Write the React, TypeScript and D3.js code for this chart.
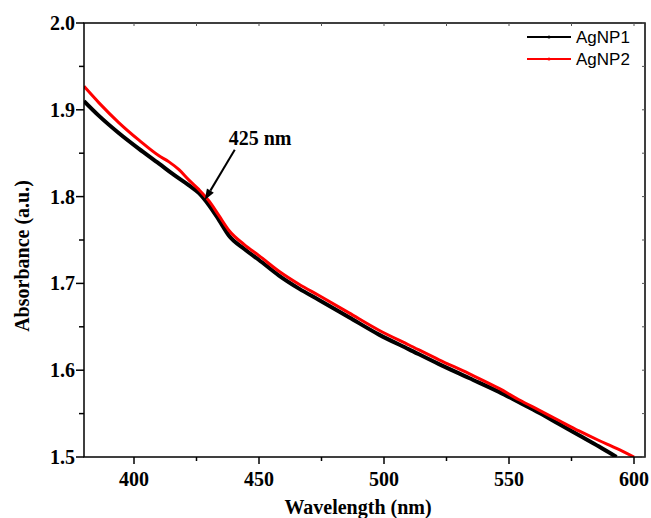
import { useEffect, useRef } from 'react';
import * as d3 from 'd3';

// wavelength (nm) / absorbance
const agnp1Wavelength = [380, 386, 394, 402, 410, 416, 422, 426, 430, 434, 438, 444, 450, 458, 466, 474, 486, 498, 510, 522, 534, 546, 554, 562, 570, 578, 586, 593];
const agnp1Absorbance = [1.910, 1.893, 1.873, 1.855, 1.838, 1.825, 1.813, 1.804, 1.790, 1.773, 1.755, 1.740, 1.727, 1.709, 1.694, 1.681, 1.661, 1.641, 1.624, 1.607, 1.591, 1.575, 1.563, 1.551, 1.538, 1.525, 1.512, 1.500];

const agnp2Wavelength = [380, 386, 394, 402, 410, 414, 418, 422, 426, 430, 434, 438, 444, 450, 458, 466, 474, 486, 498, 510, 522, 534, 546, 554, 562, 570, 578, 586, 593, 600];
const agnp2Absorbance = [1.927, 1.908, 1.885, 1.865, 1.847, 1.840, 1.831, 1.819, 1.808, 1.795, 1.778, 1.761, 1.745, 1.732, 1.714, 1.699, 1.686, 1.666, 1.646, 1.629, 1.612, 1.596, 1.579, 1.566, 1.554, 1.542, 1.530, 1.519, 1.510, 1.500];

const xTicks = [400, 450, 500, 550, 600];
const xMinorTicks = [425, 475, 525, 575];
const yTicks = [1.5, 1.6, 1.7, 1.8, 1.9, 2.0];
const yMinorTicks = [1.55, 1.65, 1.75, 1.85, 1.95];

const seriesNames = ['AgNP1', 'AgNP2'];
const seriesColors = ['#000000', '#ff0000'];

const App = () => {
  const svgRef = useRef<SVGSVGElement>(null);

  useEffect(() => {
    const width = 651;
    const height = 518;
    const margin = { top: 23, right: 6, bottom: 61, left: 84 };
    const serif = '"Liberation Serif", "Times New Roman", serif';
    const sans = '"Liberation Sans", Arial, sans-serif';

    const x = d3.scaleLinear().domain([380, 604.4]).range([margin.left, width - margin.right]);
    const y = d3.scaleLinear().domain([1.5, 2.0]).range([height - margin.bottom, margin.top]);

    const svg = d3.select(svgRef.current);
    svg.selectAll('*').remove();
    svg.attr('width', width).attr('height', height);

    const x0 = margin.left;
    const x1 = width - margin.right;
    const y0 = height - margin.bottom;
    const y1 = margin.top;

    const series = [
      agnp1Wavelength.map((w, i) => [w, agnp1Absorbance[i]] as [number, number]),
      agnp2Wavelength.map((w, i) => [w, agnp2Absorbance[i]] as [number, number]),
    ];

    const line = d3.line<[number, number]>()
      .x(d => x(d[0]))
      .y(d => y(d[1]))
      .curve(d3.curveMonotoneX);

    svg.append('defs').append('clipPath').attr('id', 'plot-clip')
      .append('rect').attr('x', x0).attr('y', y1).attr('width', x1 - x0).attr('height', y0 - y1);

    const plot = svg.append('g').attr('clip-path', 'url(#plot-clip)');
    series.forEach((s, i) => {
      plot.append('path')
        .datum(s)
        .attr('fill', 'none')
        .attr('stroke', seriesColors[i])
        .attr('stroke-width', i === 0 ? 4 : 3)
        .attr('d', line);
    });

    // frame
    svg.append('rect')
      .attr('x', x0).attr('y', y1)
      .attr('width', x1 - x0).attr('height', y0 - y1)
      .attr('fill', 'none').attr('stroke', '#000').attr('stroke-width', 1.5);

    // bottom axis (outward ticks)
    xTicks.forEach(t => {
      svg.append('line').attr('x1', x(t)).attr('x2', x(t)).attr('y1', y0).attr('y2', y0 + 7)
        .attr('stroke', '#000').attr('stroke-width', 1.5);
      svg.append('text').attr('x', x(t)).attr('y', 486)
        .attr('text-anchor', 'middle').attr('font-family', serif).attr('font-weight', 'bold')
        .attr('font-size', 20).attr('fill', '#000').text(t);
    });
    xMinorTicks.forEach(t => {
      svg.append('line').attr('x1', x(t)).attr('x2', x(t)).attr('y1', y0).attr('y2', y0 + 4)
        .attr('stroke', '#000').attr('stroke-width', 1.5);
    });
    // top axis (inward ticks)
    [...xTicks, ...xMinorTicks].forEach(t => {
      svg.append('line').attr('x1', x(t)).attr('x2', x(t)).attr('y1', y1).attr('y2', y1 + 3)
        .attr('stroke', '#555').attr('stroke-width', 1);
    });

    // left axis (outward ticks)
    yTicks.forEach(t => {
      svg.append('line').attr('x1', x0 - 8).attr('x2', x0).attr('y1', y(t)).attr('y2', y(t))
        .attr('stroke', '#000').attr('stroke-width', 1.5);
      svg.append('text').attr('x', x0 - 9).attr('y', y(t) + 7)
        .attr('text-anchor', 'end').attr('font-family', serif).attr('font-weight', 'bold')
        .attr('font-size', 20).attr('fill', '#000').text(d3.format('.1f')(t));
    });
    yMinorTicks.forEach(t => {
      svg.append('line').attr('x1', x0 - 5).attr('x2', x0).attr('y1', y(t)).attr('y2', y(t))
        .attr('stroke', '#000').attr('stroke-width', 1.5);
    });
    // right axis (inward ticks)
    [...yTicks, ...yMinorTicks].forEach(t => {
      svg.append('line').attr('x1', x1 - 3).attr('x2', x1).attr('y1', y(t)).attr('y2', y(t))
        .attr('stroke', '#555').attr('stroke-width', 1);
    });

    // axis titles
    svg.append('text').attr('x', 358).attr('y', 514)
      .attr('text-anchor', 'middle').attr('font-family', serif).attr('font-weight', 'bold')
      .attr('font-size', 20).attr('fill', '#000').text('Wavelength (nm)');
    svg.append('text')
      .attr('transform', 'translate(29, 256) rotate(-90)')
      .attr('text-anchor', 'middle').attr('font-family', serif).attr('font-weight', 'bold')
      .attr('font-size', 20).attr('fill', '#000').text('Absorbance (a.u.)');

    // annotation
    const tipX = x(428.3);
    const tipY = y(1.796);
    const tailX = x(440.3);
    const tailY = y(1.854);
    const ang = Math.atan2(tipY - tailY, tipX - tailX);
    const headLen = 11;
    const headW = 4;
    const bx = tipX - headLen * Math.cos(ang);
    const by = tipY - headLen * Math.sin(ang);
    svg.append('line').attr('x1', tailX).attr('y1', tailY).attr('x2', bx).attr('y2', by)
      .attr('stroke', '#000').attr('stroke-width', 2);
    svg.append('polygon')
      .attr('points', [
        [tipX, tipY],
        [bx + headW * Math.sin(ang), by - headW * Math.cos(ang)],
        [bx - headW * Math.sin(ang), by + headW * Math.cos(ang)],
      ].map(p => p.join(',')).join(' '))
      .attr('fill', '#000');
    svg.append('text').attr('x', x(437.9)).attr('y', y(1.860))
      .attr('font-family', serif).attr('font-weight', 'bold')
      .attr('font-size', 20).attr('fill', '#000').text('425 nm');

    // legend
    seriesNames.forEach((name, i) => {
      const ly = 37 + i * 22;
      svg.append('line').attr('x1', 527).attr('x2', 571).attr('y1', ly).attr('y2', ly)
        .attr('stroke', seriesColors[i]).attr('stroke-width', 2);
      svg.append('circle').attr('cx', 549).attr('cy', ly).attr('r', 1.6)
        .attr('fill', seriesColors[i]);
      svg.append('text').attr('x', 576).attr('y', ly + 6)
        .attr('font-family', sans).attr('font-size', 17).attr('fill', '#000').text(name);
    });
  }, []);

  return (
    <svg ref={svgRef} style={{ position: 'absolute', left: 0, top: 0, background: '#fff' }}></svg>
  );
};

export default App;
